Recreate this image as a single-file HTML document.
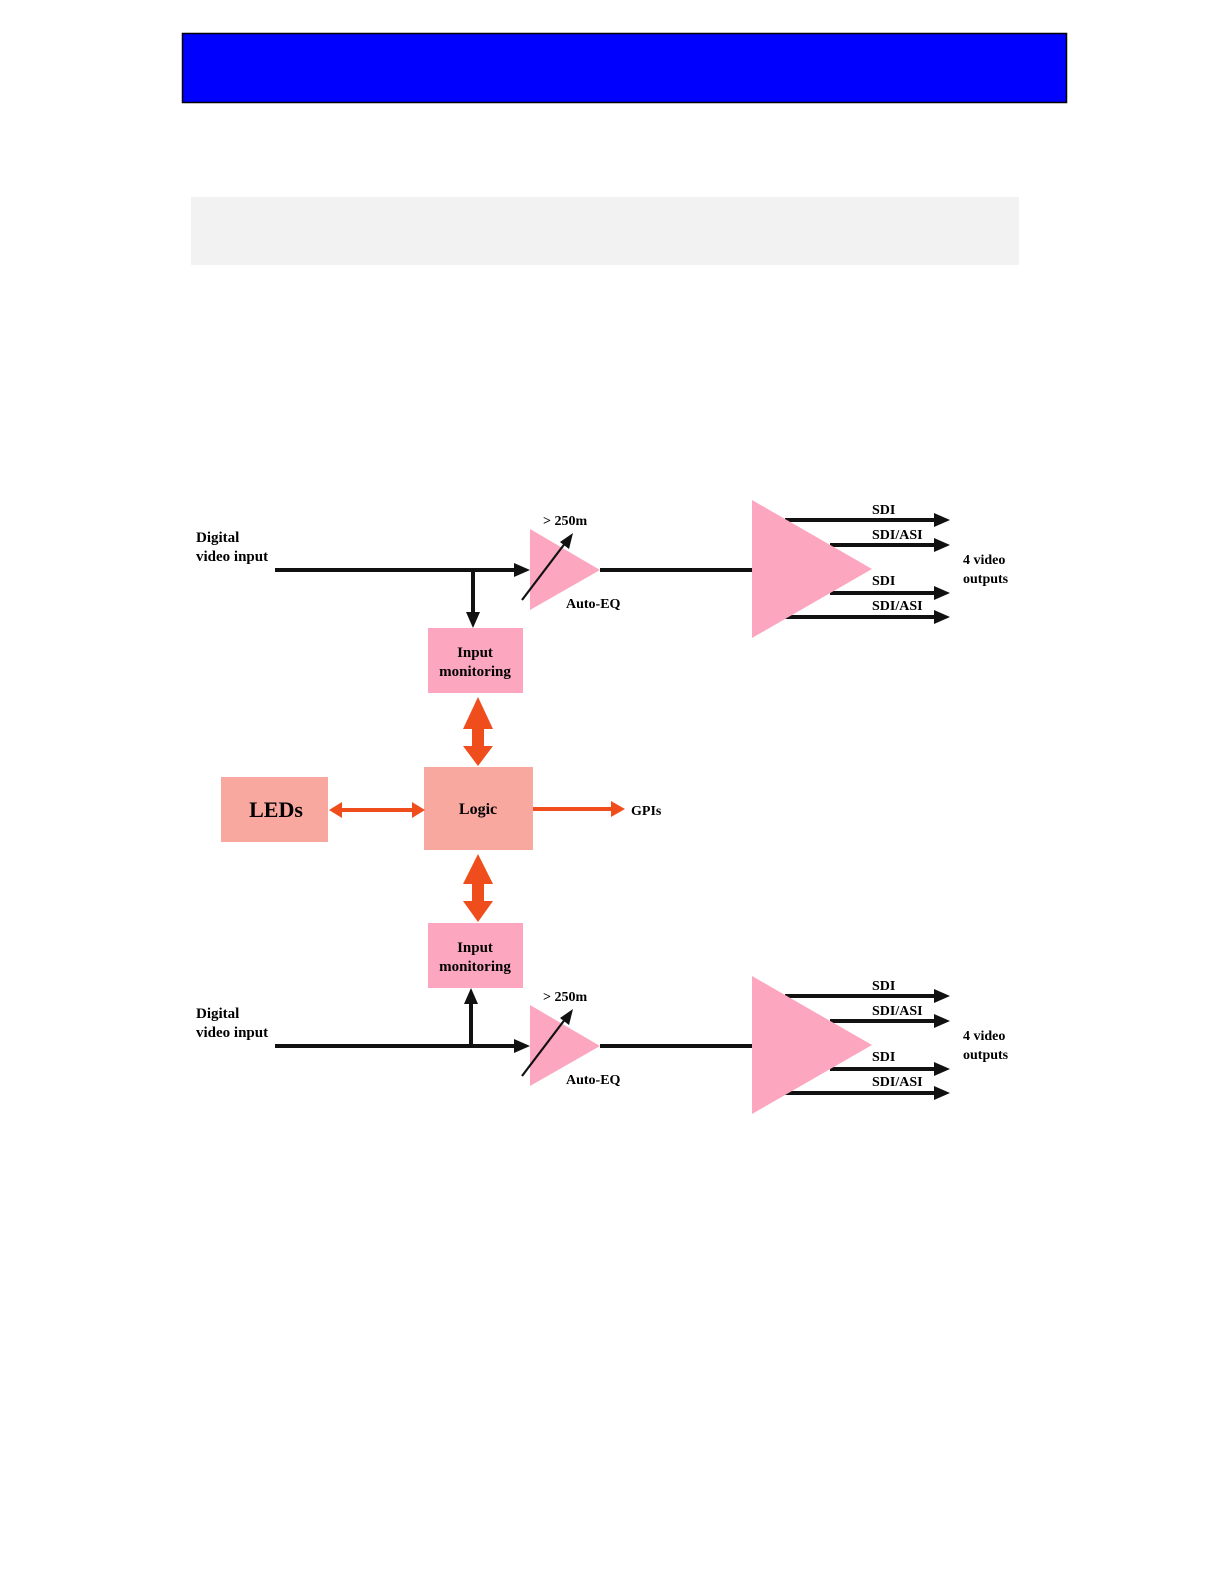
<!DOCTYPE html>
<html><head><style>html,body{margin:0;background:#fff;overflow:hidden}svg{display:block}</style></head><body>
<svg width="1225" height="1585" viewBox="0 0 1225 1585" xmlns="http://www.w3.org/2000/svg" font-family="Liberation Serif, serif" font-weight="bold">
<rect x="182.5" y="33.5" width="884" height="69" fill="#0000ff" stroke="#000" stroke-width="1.5"/>
<rect x="191" y="197" width="828" height="68" fill="#f2f2f2"/>
<g id="top">
<text x="196" y="542" font-size="15">Digital</text>
<text x="196" y="561" font-size="15">video input</text>
<line x1="275" y1="570" x2="516" y2="570" stroke="#111" stroke-width="4"/>
<polygon points="514,563 530,570 514,577" fill="#111"/>
<line x1="600" y1="570" x2="752" y2="570" stroke="#111" stroke-width="4"/>
<polygon points="530,529 530,610 600,570" fill="#fca6c0"/>
<line x1="522" y1="600" x2="566" y2="542" stroke="#111" stroke-width="2.2"/>
<polygon points="573,533 569,549 560,542" fill="#111"/>
<text x="543" y="525" font-size="14">&gt; 250m</text>
<text x="566" y="608" font-size="14">Auto-EQ</text>
<line x1="785" y1="520" x2="936" y2="520" stroke="#111" stroke-width="4"/>
<line x1="830" y1="545" x2="936" y2="545" stroke="#111" stroke-width="4"/>
<line x1="830" y1="593" x2="936" y2="593" stroke="#111" stroke-width="4"/>
<line x1="785" y1="617" x2="936" y2="617" stroke="#111" stroke-width="4"/>
<polygon points="934,513 950,520 934,527" fill="#111"/>
<polygon points="934,538 950,545 934,552" fill="#111"/>
<polygon points="934,586 950,593 934,600" fill="#111"/>
<polygon points="934,610 950,617 934,624" fill="#111"/>
<polygon points="752,500 752,638 872,569" fill="#fca6c0"/>
<text x="872" y="514" font-size="14">SDI</text>
<text x="872" y="539" font-size="14">SDI/ASI</text>
<text x="872" y="585" font-size="14">SDI</text>
<text x="872" y="610" font-size="14">SDI/ASI</text>
<text x="963" y="564" font-size="14">4 video</text>
<text x="963" y="583" font-size="14">outputs</text>
</g>
<use href="#top" transform="translate(0,476)"/>
<!-- top branch down -->
<line x1="473" y1="570" x2="473" y2="614" stroke="#111" stroke-width="4"/>
<polygon points="466,612 473,628 480,612" fill="#111"/>
<!-- bottom branch up -->
<line x1="471" y1="1046" x2="471" y2="1002" stroke="#111" stroke-width="4"/>
<polygon points="464,1004 471,988 478,1004" fill="#111"/>
<rect x="428" y="628" width="95" height="65" fill="#fca6c0"/>
<text x="475" y="657" font-size="15" text-anchor="middle">Input</text>
<text x="475" y="676" font-size="15" text-anchor="middle">monitoring</text>
<rect x="428" y="923" width="95" height="65" fill="#fca6c0"/>
<text x="475" y="952" font-size="15" text-anchor="middle">Input</text>
<text x="475" y="971" font-size="15" text-anchor="middle">monitoring</text>
<rect x="424" y="767" width="109" height="83" fill="#f9a8a0"/>
<text x="478" y="814" font-size="16" text-anchor="middle">Logic</text>
<rect x="221" y="777" width="107" height="65" fill="#f9a8a0"/>
<text x="276" y="817" font-size="22" text-anchor="middle">LEDs</text>
<!-- orange vertical double arrows -->
<polygon points="478,697 493,729 484,729 484,746 493,746 478,766 463,746 472,746 472,729 463,729" fill="#ef4e1c"/>
<polygon points="478,854 493,884 484,884 484,901 493,901 478,922 463,901 472,901 472,884 463,884" fill="#ef4e1c"/>
<!-- horizontal -->
<line x1="340" y1="810" x2="414" y2="810" stroke="#ef4e1c" stroke-width="4"/>
<polygon points="342,802 329,810 342,818" fill="#ef4e1c"/>
<polygon points="412,802 425,810 412,818" fill="#ef4e1c"/>
<line x1="533" y1="809" x2="613" y2="809" stroke="#ef4e1c" stroke-width="4"/>
<polygon points="611,801 625,809 611,817" fill="#ef4e1c"/>
<text x="631" y="815" font-size="14">GPIs</text>
</svg>
</body></html>
